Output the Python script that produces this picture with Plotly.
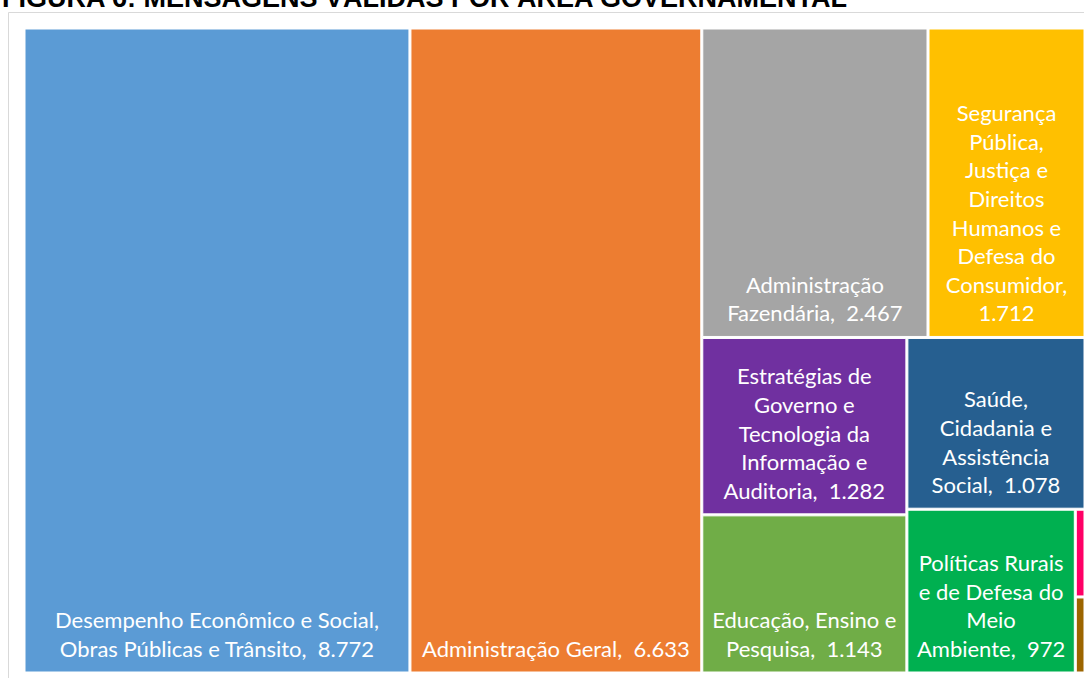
import plotly.graph_objects as go

# Mensagens válidas por área governamental
areas = [
    "Desempenho Econômico e Social, Obras Públicas e Trânsito",
    "Administração Geral",
    "Administração Fazendária",
    "Segurança Pública, Justiça e Direitos Humanos e Defesa do Consumidor",
    "Estratégias de Governo e Tecnologia da Informação e Auditoria",
    "Educação, Ensino e Pesquisa",
    "Saúde, Cidadania e Assistência Social",
    "Políticas Rurais e de Defesa do Meio Ambiente",
    "Demais áreas I",
    "Demais áreas II",
]
mensagens = [8772, 6633, 2467, 1712, 1282, 1143, 1078, 972, 30, 26]

# Linhas de cada rótulo; {v} recebe o total formatado
rotulos = [
    ["Desempenho Econômico e Social,", "Obras Públicas e Trânsito,  {v}"],
    ["Administração Geral,  {v}"],
    ["Administração", "Fazendária,  {v}"],
    ["Segurança", "Pública,", "Justiça e", "Direitos", "Humanos e",
     "Defesa do", "Consumidor,", "{v}"],
    ["Estratégias de", "Governo e", "Tecnologia da", "Informação e",
     "Auditoria,  {v}"],
    ["Educação, Ensino e", "Pesquisa,  {v}"],
    ["Saúde,", "Cidadania e", "Assistência", "Social,  {v}"],
    ["Políticas Rurais", "e de Defesa do", "Meio", "Ambiente,  {v}"],
    [],
    [],
]
cores = ["#5B9BD5", "#ED7D31", "#A5A5A5", "#FFC000", "#7030A0",
         "#70AD47", "#265F90", "#00B050", "#FF0066", "#9C6500"]

# Agrupamento dos blocos (fatias alternadas horizontal/vertical)
pai_area = ["", "", "faixa_sup", "faixa_sup", "col_a", "col_a",
            "col_b", "faixa_c", "bloco_d", "bloco_d"]
grupos = ["demais", "faixa_sup", "faixa_inf", "col_a", "col_b", "faixa_c", "bloco_d"]
pai_grupo = ["", "demais", "demais", "faixa_inf", "faixa_inf", "col_b", "faixa_c"]


def fmt(v):
    return f"{v:,}".replace(",", ".")


# espaço fino e alto nas pontas da última linha: afasta o rótulo da borda inferior
RESPIRO = '<span style="font-size:58px">\u200a</span>'


def montar(linhas, v):
    if not linhas:
        return ""
    linhas = [ln.replace("  ", "\u00a0 ").format(v=fmt(v)) for ln in linhas]
    linhas[-1] = RESPIRO + linhas[-1] + RESPIRO
    return "<br>".join(linhas)


ids = areas + grupos
parents = pai_area + pai_grupo
values = mensagens + [0] * len(grupos)
textos = [montar(r, v) for r, v in zip(rotulos, mensagens)] + [""] * len(grupos)
cores_all = cores + ["white"] * len(grupos)

fig = go.Figure(go.Treemap(
    ids=ids,
    labels=ids,
    parents=parents,
    values=values,
    branchvalues="remainder",
    sort=False,
    text=textos,
    textinfo="text",
    textposition="bottom center",
    textfont=dict(family="Lato", size=22, color="white"),
    marker=dict(colors=cores_all, line=dict(color="white", width=1),
                pad=dict(t=0, l=0, r=0, b=0)),
    tiling=dict(packing="slice-dice", pad=2),
    pathbar=dict(visible=False),
    hoverinfo="skip",
    root=dict(color="white"),
))

W, H = 1084, 678
ml, mr, mt, mb = 25, 0, 29, 6
pw, ph = W - ml - mr, H - mt - mb


def px_x(x):
    return (x - ml) / pw


def px_y(y):
    return (H - mb - y) / ph


fig.add_annotation(
    text="<b>FIGURA 6: MENSAGENS VÁLIDAS POR ÁREA GOVERNAMENTAL</b>",
    xref="paper", yref="paper", x=px_x(0), y=px_y(15),
    xanchor="left", yanchor="bottom", showarrow=False,
    font=dict(family="Liberation Sans", size=27, color="black"),
)

# Moldura da área do gráfico
borda = dict(color="#D9D9D9", width=1)
fig.add_shape(type="line", xref="paper", yref="paper",
              x0=px_x(8.5), x1=px_x(8.5), y0=px_y(12.5), y1=px_y(700), line=borda)
fig.add_shape(type="line", xref="paper", yref="paper",
              x0=px_x(8.5), x1=px_x(1100), y0=px_y(12.5), y1=px_y(12.5), line=borda)

fig.update_layout(
    width=W, height=H,
    margin=dict(l=ml, r=mr, t=mt, b=mb),
    paper_bgcolor="white",
    plot_bgcolor="white",
)

fig.write_html("out.html")
